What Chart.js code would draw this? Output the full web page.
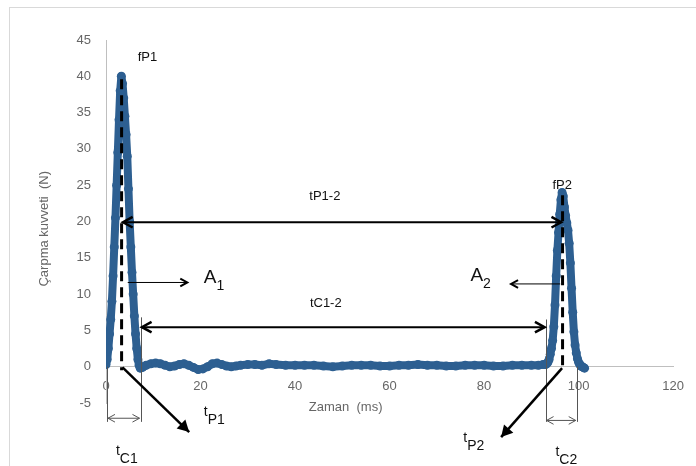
<!DOCTYPE html>
<html>
<head>
<meta charset="utf-8">
<script src="https://cdn.jsdelivr.net/npm/chart.js@4.4.0/dist/chart.umd.min.js"></script>
<style>
  body { margin: 0; background: #fff; }
  canvas { display: block; }
</style>
</head>
<body>
<canvas id="impactChart" width="696" height="466"></canvas>
<script>
// zaman (ms) ve kuvvet (N) degerleri
const times = [
    0, 0.25, 0.5, 0.75, 1, 1.25, 1.5, 1.75, 2, 2.25, 2.5, 2.75, 3, 3.25, 3.5, 3.75,
    4, 4.25, 4.5, 4.75, 5, 5.25, 5.5, 5.75, 6, 6.25, 6.5, 6.75, 7, 7.25,
    7.75, 8.5, 9.5, 10.5, 11.5, 12.5, 13.5, 14.5, 15.5, 16.5, 17.5, 18.5, 19.5, 20.5,
    21.5, 22.5, 23.5, 24.5, 25.5, 26.5, 27.5, 28.5, 30, 31.5, 33, 34.5, 36, 38, 40,
    42, 44, 46, 48, 50, 52, 54, 56, 58, 60, 62, 64, 66, 68, 70, 72, 74, 76, 78, 80,
    82, 84, 86, 88, 90, 91.5, 92.5,
    93, 93.25, 93.5, 93.75, 94, 94.25, 94.5, 94.75, 95, 95.25, 95.5, 95.75, 96, 96.25,
    96.5, 96.75, 97, 97.25, 97.5, 97.75, 98, 98.25, 98.5, 98.75, 99, 99.25, 99.5,
    99.75, 100, 100.25, 100.5, 100.75, 101, 101.25
];
const forces = [
    0.3, 1, 2.5, 4.5, 6.5, 9, 12.5, 16.5, 20.5, 25, 29.5, 34, 38, 40, 39, 37,
    34.5, 32, 29, 24.5, 20, 16.5, 13, 10, 7, 4.5, 2.5, 1, 0.2, -0.2,
    -0.1, 0.2, 0.4, 0.5, 0.4, 0.2, 0, 0.1, 0.3, 0.4, 0.2, -0.1, -0.4, -0.3,
    0, 0.4, 0.5, 0.3, 0.1, 0, 0.1, 0.2, 0.3, 0.3, 0.2, 0.4, 0.3, 0.2, 0.2,
    0.2, 0.2, 0.1, 0, 0.1, 0.2, 0.2, 0.2, 0.1, 0.1, 0.2, 0.2, 0.3, 0.2, 0.2, 0.1, 0.1, 0.2, 0.2, 0.2,
    0.1, 0.1, 0.2, 0.2, 0.2, 0.2, 0.3,
    0.3, 0.4, 0.6, 1, 1.7, 2.5, 3.6, 5.5, 8.5, 12.5, 16, 18.5, 21, 23,
    24, 23.5, 22, 20.8, 19.8, 18.8, 17, 14.3, 10.8, 7.5, 4.8, 3, 1.9,
    1.1, 0.6, 0.3, 0.1, 0, -0.1, -0.2
];
const xTicks = [0, 20, 40, 60, 80, 100, 120];
const yTicks = [-5, 0, 5, 10, 15, 20, 25, 30, 35, 40, 45];

const seriesColor = '#2d5f91';
const tickColor = '#666666';
const fontName = "'Liberation Sans', Arial, sans-serif";

function arrowHead(ctx, x1, y1, x2, y2, len, filled) {
    const a = Math.atan2(y2 - y1, x2 - x1);
    const s = 0.5;
    ctx.beginPath();
    ctx.moveTo(x2 - len * Math.cos(a - s), y2 - len * Math.sin(a - s));
    ctx.lineTo(x2, y2);
    ctx.lineTo(x2 - len * Math.cos(a + s), y2 - len * Math.sin(a + s));
    if (filled) {
        ctx.closePath();
        ctx.fill();
    } else {
        ctx.stroke();
    }
}

function arrow(ctx, x1, y1, x2, y2, o) {
    ctx.save();
    ctx.strokeStyle = o.color || '#000';
    ctx.fillStyle = o.color || '#000';
    ctx.lineWidth = o.width || 1;
    ctx.lineCap = 'butt';
    ctx.beginPath();
    ctx.moveTo(x1, y1);
    ctx.lineTo(x2, y2);
    ctx.stroke();
    ctx.lineWidth = o.headWidth || o.width || 1;
    if (o.end) arrowHead(ctx, x1, y1, x2, y2, o.len || 9, o.filled);
    if (o.start) arrowHead(ctx, x2, y2, x1, y1, o.len || 9, o.filled);
    ctx.restore();
}

function subText(ctx, x, y, main, sub, size, subSize, dy) {
    ctx.save();
    ctx.fillStyle = '#111';
    ctx.textAlign = 'left';
    ctx.textBaseline = 'middle';
    ctx.font = size + 'px ' + fontName;
    ctx.fillText(main, x, y);
    const w = ctx.measureText(main).width;
    ctx.font = subSize + 'px ' + fontName;
    ctx.fillText(sub, x + w, y + dy);
    ctx.restore();
}

// cerceve, eksen basliklari ve oklar
const annotationPlugin = {
    id: 'annotations',
    beforeDraw(chart) {
        const ctx = chart.ctx;
        ctx.save();
        ctx.fillStyle = '#fff';
        ctx.fillRect(0, 0, chart.width, chart.height);
        ctx.strokeStyle = '#d9d9d9';
        ctx.lineWidth = 1;
        ctx.strokeRect(9.5, 7.5, 720, 500);
        ctx.restore();
    },
    afterDraw(chart) {
        const ctx = chart.ctx;
        const xs = chart.scales.x, ys = chart.scales.y;
        const X = v => xs.getPixelForValue(v);
        const Y = v => ys.getPixelForValue(v);

        // eksen basliklari
        ctx.save();
        ctx.fillStyle = tickColor;
        ctx.font = '13px ' + fontName;
        ctx.textAlign = 'center';
        ctx.textBaseline = 'middle';
        ctx.fillText('Zaman  (ms)', X(50.7), Y(-5.6));
        ctx.translate(44, Y(19));
        ctx.rotate(-Math.PI / 2);
        ctx.fillText('Çarpma kuvveti  (N)', 0, 0);
        ctx.restore();

        // tepe noktalarindaki kesikli cizgiler
        ctx.save();
        ctx.strokeStyle = '#000';
        ctx.lineWidth = 3;
        ctx.setLineDash([10, 6]);
        ctx.beginPath();
        ctx.moveTo(X(3.3), Y(39.6));
        ctx.lineTo(X(3.3), Y(-0.5));
        ctx.moveTo(X(96.6), Y(23.6));
        ctx.lineTo(X(96.6), Y(-0.5));
        ctx.stroke();
        ctx.restore();

        // ince dikey cizgiler (tC1, tC2)
        ctx.save();
        ctx.strokeStyle = '#555';
        ctx.lineWidth = 1;
        ctx.beginPath();
        [[0.2, 0, -7.6], [7.3, 6.8, -7.6], [93, 6.5, -7.6], [99.6, 0, -7.6]].forEach(l => {
            const x = Math.round(X(l[0])) + 0.5;
            ctx.moveTo(x, Y(l[1]));
            ctx.lineTo(x, Y(l[2]));
        });
        ctx.stroke();
        ctx.restore();
        arrow(ctx, X(0.2) + 1, Y(-7.1), X(7.3) - 1, Y(-7.1), { color: '#555', width: 1, start: true, end: true, len: 8 });
        arrow(ctx, X(93) + 1, Y(-7.4), X(99.6) - 1, Y(-7.4), { color: '#555', width: 1, start: true, end: true, len: 8 });

        // tP1-2 ve tC1-2 oklari
        arrow(ctx, X(3.6), Y(19.9), X(96.3), Y(19.9), { width: 2, headWidth: 2.5, start: true, end: true, len: 11 });
        arrow(ctx, X(7.6), Y(5.45), X(92.8), Y(5.45), { width: 2, headWidth: 2.5, start: true, end: true, len: 11 });

        // A1, A2 oklari
        arrow(ctx, X(4.6), Y(11.6), X(17.2), Y(11.6), { width: 1, headWidth: 2, end: true, len: 8 });
        arrow(ctx, X(96.1), Y(11.4), X(85.7), Y(11.4), { width: 1, headWidth: 2, end: true, len: 8 });

        // tP1, tP2 oklari
        arrow(ctx, X(3.5), Y(-0.1), X(17.6), Y(-9.0), { width: 2.5, end: true, filled: true, len: 13 });
        arrow(ctx, X(96.5), Y(-0.2), X(83.6), Y(-9.7), { width: 2.5, end: true, filled: true, len: 13 });

        // etiketler
        ctx.save();
        ctx.fillStyle = '#111';
        ctx.font = '13px ' + fontName;
        ctx.textBaseline = 'middle';
        ctx.textAlign = 'left';
        ctx.fillText('fP1', X(6.7), Y(42.6));
        ctx.fillText('fP2', X(94.45), Y(25.0));
        ctx.textAlign = 'center';
        ctx.fillText('tP1-2', X(46.3), Y(23.5));
        ctx.fillText('tC1-2', X(46.5), Y(8.75));
        ctx.restore();

        subText(ctx, X(20.7), Y(12.2), 'A', '1', 19, 14, 8);
        subText(ctx, X(77.1), Y(12.5), 'A', '2', 19, 14, 8);
        subText(ctx, X(20.7), Y(-6.3), 't', 'P1', 14, 14, 8);
        subText(ctx, X(75.6), Y(-9.85), 't', 'P2', 14, 14, 8);
        subText(ctx, X(2.1), Y(-11.6), 't', 'C1', 14, 14, 8);
        subText(ctx, X(95.1), Y(-11.8), 't', 'C2', 14, 14, 8);
    }
};

const points = times.map((t, i) => ({ x: t, y: forces[i] }));

new Chart(document.getElementById('impactChart'), {
    type: 'scatter',
    data: {
        datasets: [{
            data: points,
            showLine: true,
            borderColor: seriesColor,
            backgroundColor: seriesColor,
            borderWidth: 8,
            borderJoinStyle: 'round',
            borderCapStyle: 'round',
            pointRadius: 4.5,
            pointBorderWidth: 0,
            tension: 0
        }]
    },
    options: {
        responsive: false,
        animation: false,
        layout: { padding: { left: 20, right: 17, top: 40, bottom: 63 } },
        plugins: {
            legend: { display: false },
            tooltip: { enabled: false }
        },
        scales: {
            x: {
                type: 'linear',
                position: { y: 0 },
                min: 0,
                max: 120,
                afterBuildTicks: (s) => { s.ticks = xTicks.map(v => ({ value: v })); },
                grid: { display: false, drawTicks: false },
                border: { display: true, color: '#bfbfbf', width: 1 },
                ticks: { color: tickColor, font: { size: 13, family: fontName }, padding: 12, maxRotation: 0 }
            },
            y: {
                type: 'linear',
                min: -5,
                max: 45,
                afterBuildTicks: (s) => { s.ticks = yTicks.map(v => ({ value: v })); },
                afterFit: (s) => { s.width = 86; },
                grid: { display: false, drawTicks: false },
                border: { display: true, color: '#bfbfbf', width: 1 },
                ticks: { color: tickColor, font: { size: 13, family: fontName }, padding: 15 }
            }
        }
    },
    plugins: [annotationPlugin]
});
</script>
</body>
</html>
